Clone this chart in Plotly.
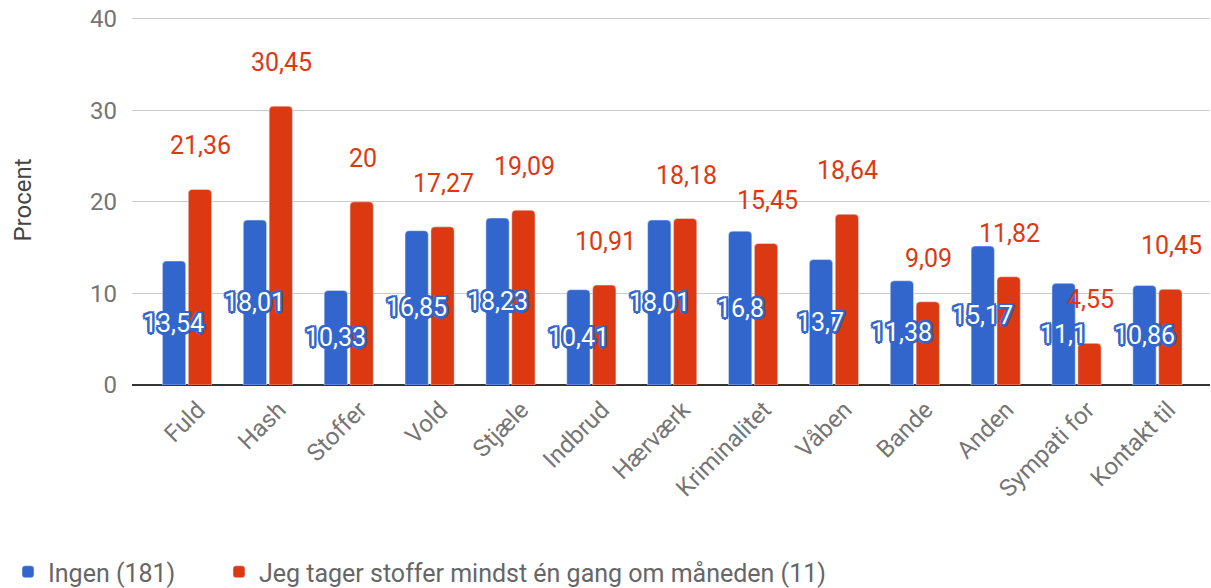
import plotly.graph_objects as go

categories = ["Fuld", "Hash", "Stoffer", "Vold", "Stjæle", "Indbrud", "Hærværk",
              "Kriminalitet", "Våben", "Bande", "Anden", "Sympati for", "Kontakt til"]
ingen = [13.54, 18.01, 10.33, 16.85, 18.23, 10.41, 18.01, 16.8, 13.7, 11.38, 15.17, 11.1, 10.86]
stoffer = [21.36, 30.45, 20, 17.27, 19.09, 10.91, 18.18, 15.45, 18.64, 9.09, 11.82, 4.55, 10.45]
series_names = ["Ingen (181)", "Jeg tager stoffer mindst én gang om måneden (11)"]
y_ticks = [0, 10, 20, 30, 40]

BLUE = "#3366cc"
RED = "#dc3912"
FONT = "Roboto"


def fmt(v):
    return f"{v:g}".replace(".", ",")


fig = go.Figure()
fig.add_trace(go.Bar(x=categories, y=ingen, name=series_names[0], marker_color=BLUE,
                     legend="legend"))
fig.add_trace(go.Bar(x=categories, y=stoffer, name=series_names[1], marker_color=RED,
                     legend="legend2"))

outline = ", ".join(f"{dx}px {dy}px 0 {BLUE}" for dx, dy in
                    [(2.5, 0), (-2.5, 0), (0, 2.5), (0, -2.5), (2, 2), (-2, -2), (2, -2), (-2, 2)])

annotations = []
for c, v in zip(categories, ingen):
    annotations.append(dict(x=c, y=v / 2, text=fmt(v), showarrow=False, xshift=-13,
                            yanchor="middle",
                            font=dict(family=FONT, size=25, color="white", shadow=outline)))
for c, v in zip(categories, stoffer):
    annotations.append(dict(x=c, y=v, text=fmt(v), showarrow=False, xshift=14,
                            yanchor="bottom", yshift=27,
                            font=dict(family=FONT, size=25, color=RED)))

legend_style = dict(orientation="h", xref="container", yref="container",
                    xanchor="left", yanchor="middle", y=16 / 588,
                    font=dict(size=25, color="#666666"), itemwidth=30,
                    bgcolor="rgba(0,0,0,0)")

fig.update_layout(
    width=1211, height=588,
    margin=dict(l=132, r=1, t=15, b=203),
    plot_bgcolor="white", paper_bgcolor="white",
    barmode="group", bargap=0.36, bargroupgap=0.1, barcornerradius=4,
    font=dict(family=FONT, color="#757575", size=24),
    annotations=annotations,
    showlegend=True,
    legend=dict(x=8 / 1211, **legend_style),
    legend2=dict(x=219 / 1211, **legend_style),
    xaxis=dict(range=[-0.68, 12.65], tickangle=-45, tickfont=dict(size=24, color="#757575"),
               showgrid=False, ticks="", showline=False, automargin=False,
               ticklabelshift=11, ticklabelstandoff=5, ticklabeloverflow="allow"),
    yaxis=dict(range=[0, 40.4], tickvals=y_ticks, gridcolor="#cccccc", gridwidth=1,
               zeroline=True, zerolinecolor="#333333", zerolinewidth=2,
               tickfont=dict(size=24, color="#757575"), ticks="", ticklabelstandoff=14,
               automargin=False, ticklabeloverflow="allow",
               title=dict(text="Procent", font=dict(size=24, color="#444444"), standoff=51)),
)

fig.write_html("out.html", post_script="document.body.style.margin='0';",
               config={"displayModeBar": False})
